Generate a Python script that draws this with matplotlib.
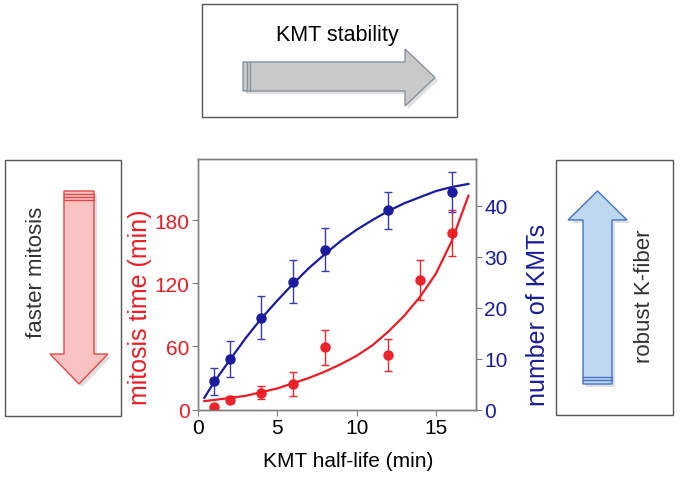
import matplotlib
matplotlib.use("Agg")
import matplotlib.pyplot as plt
from matplotlib.patches import Polygon, Rectangle

plt.rcParams['font.family'] = ['Liberation Sans', 'DejaVu Sans']

# data
half_life_time = [1, 2, 4, 6, 8, 12, 14, 16]
mitosis_time = [2, 9.5, 16, 24, 59, 52, 123, 168]
mitosis_err = [1.5, 3, 6, 11.5, 17, 15, 19, 22]

half_life_kmt = [1, 2, 4, 6, 8, 12, 16]
kmt_count = [5.5, 9.9, 18, 25.1, 31.4, 39.1, 42.7]
kmt_err = [2.6, 3.6, 4.2, 4.2, 4.2, 3.6, 3.9]

# fitted curves
fit_x = [0.4, 1, 2, 3, 4, 5, 6, 7, 8, 9, 10, 11, 12, 13, 14, 15, 16, 17.05]
time_fit = [8, 9, 11, 13, 16.5, 20, 25, 30, 36, 43, 51, 61, 74, 89, 107, 129, 160, 203]
kmt_fit = [2.3, 5.3, 9.7, 14, 17.9, 21.4, 24.7, 27.8, 30.5, 33.1, 35.3, 37.2,
           39, 40.5, 41.7, 42.9, 43.7, 44.3]

x_ticks = [0, 5, 10, 15]
time_ticks = [0, 60, 120, 180]
kmt_ticks = [0, 10, 20, 30, 40]

red = '#ec1c24'
blue = '#1b1b9e'
W, H = 680, 481

fig = plt.figure(figsize=(6.8, 4.81), dpi=100)

# background layer with the boxes and arrows, in pixel coordinates
bg = fig.add_axes([0, 0, 1, 1], zorder=-1)
bg.set_xlim(0, W)
bg.set_ylim(H, 0)
bg.axis('off')

def box(x0, y0, x1, y1):
    bg.add_patch(Rectangle((x0, y0), x1 - x0, y1 - y0, fill=False,
                           edgecolor='#555555', lw=1))

def arrow(pts, face, edge):
    shadow = [(px + 3, py + 3) for px, py in pts]
    bg.add_patch(Polygon(shadow, closed=True, facecolor='black', alpha=0.12, lw=0))
    bg.add_patch(Polygon(pts, closed=True, facecolor=face, edgecolor=edge, lw=1))

box(202, 5, 457, 118)
box(5, 161, 121, 417)
box(556, 161, 673, 416)

# grey arrow (right)
arrow([(243, 63), (405, 63), (405, 50), (435, 78.5), (405, 107), (405, 92), (243, 92)],
      '#c9c9c9', '#8a929c')
for sx in [246.5, 250]:
    bg.plot([sx, sx], [63, 92], color='#8a929c', lw=1)

# red arrow (down)
arrow([(64, 192), (94, 192), (94, 355), (108, 355), (79, 385), (50, 355), (64, 355)],
      '#f9c2c2', '#e04848')
for sy in [195, 198, 201]:
    bg.plot([64, 94], [sy, sy], color='#e04848', lw=1)

# blue arrow (up)
arrow([(583, 385), (612, 385), (612, 221), (627, 221), (597.5, 192), (568, 221), (583, 221)],
      '#bdd7ee', '#4472c4')
for sy in [378, 381]:
    bg.plot([583, 612], [sy, sy], color='#4472c4', lw=1)

bg.text(337, 35, 'KMT stability', fontsize=15.5, ha='center', va='center')
bg.text(36, 272, 'faster mitosis', fontsize=16, rotation=90,
        ha='center', va='center', color='#333333')
bg.text(645, 296, 'robust K-fiber', fontsize=16, rotation=90,
        ha='center', va='center', color='#333333')

# main chart
ax = fig.add_axes([198 / W, 1 - 410.5 / H, 278 / W, 250.5 / H])
ax2 = ax.twinx()

ax.plot(fit_x, time_fit, color=red, lw=1.6, zorder=2)
ax.errorbar(half_life_time, mitosis_time, yerr=mitosis_err, fmt='o', color=red,
            ms=6.5, ecolor=red, elinewidth=1, capsize=3, alpha=0.95, zorder=3)
ax2.plot(fit_x, kmt_fit, color=blue, lw=1.6, zorder=2)
ax2.errorbar(half_life_kmt, kmt_count, yerr=kmt_err, fmt='o', color=blue,
             ms=6.5, ecolor='#3a3ab0', elinewidth=1, capsize=3, zorder=3)

ax.set_xlim(0, 17.53)
ax.set_ylim(0, 238)
ax2.set_ylim(0, 49.2)
ax.set_xticks(x_ticks)
ax.set_yticks(time_ticks)
ax2.set_yticks(kmt_ticks)

for a in (ax, ax2):
    for s in a.spines.values():
        s.set_color('#7f7f7f')
        s.set_linewidth(1)
ax.tick_params(axis='x', direction='out', length=4, color='#7f7f7f',
               labelsize=15, pad=2)
ax.tick_params(axis='y', direction='out', length=4, color='#7f7f7f',
               labelsize=15, labelcolor=red, pad=2)
ax2.tick_params(axis='y', direction='out', length=4, color='#7f7f7f',
                labelsize=15, labelcolor=blue, pad=2)

ax.set_xlabel('KMT half-life (min)', fontsize=15, va='center')
ax.xaxis.set_label_coords((348 - 198) / 278, (410.5 - 462) / 250.5)
ax.set_ylabel('mitosis time (min)', fontsize=18, color=red, va='center')
ax.yaxis.set_label_coords((140 - 198) / 278, (410.5 - 307) / 250.5)
ax2.set_ylabel('number of KMTs', fontsize=18, color=blue, va='center', rotation=90)
ax2.yaxis.set_label_coords((538 - 198) / 278, (410.5 - 315) / 250.5)

fig.savefig('out.png', dpi=100)
